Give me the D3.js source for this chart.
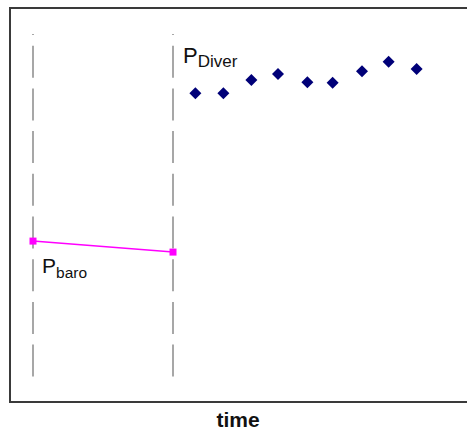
<!DOCTYPE html>
<html><head><meta charset="utf-8">
<script src="https://cdn.jsdelivr.net/npm/d3@7"></script>
<style>body{margin:0;background:#fff}svg{display:block}</style>
</head><body>
<script>
// Data
const markerTimes = [0, 10];
const baroTimes = [0, 10];
const baroValues = [39.8, 36.6];
const diverTimes = [11.6, 13.6, 15.6, 17.5, 19.6, 21.4, 23.5, 25.4, 27.4];
const diverValues = [82.8, 82.8, 86.6, 88.4, 86.0, 85.8, 89.2, 91.9, 89.8];
const xLabel = "time";

const W = 467, H = 433;
const svg = d3.select("body").append("svg").attr("width", W).attr("height", H);

const x = d3.scaleLinear().domain([0, 10]).range([33, 173]);
const y = d3.scaleLinear().domain([0, 100]).range([378, 34]);

// frame
svg.append("path").attr("d", "M470,8 H10 V402 H470")
  .attr("fill", "none").attr("stroke", "#3a3a3a").attr("stroke-width", 2);

// dashed vertical markers
svg.selectAll(".mk").data(markerTimes).enter().append("line")
  .attr("x1", d => x(d)).attr("x2", d => x(d))
  .attr("y1", y(100)).attr("y2", y(0))
  .attr("stroke", "#8a8a8a").attr("stroke-width", 1.5)
  .attr("stroke-dasharray", "32,10.7").attr("stroke-dashoffset", 31);

// baro line
const baro = baroTimes.map((t, i) => [t, baroValues[i]]);
svg.append("path").datum(baro)
  .attr("d", d3.line().x(d => x(d[0])).y(d => y(d[1])))
  .attr("fill", "none").attr("stroke", "#ff00ff").attr("stroke-width", 1.5);
svg.selectAll(".bs").data(baro).enter().append("rect")
  .attr("x", d => x(d[0]) - 3.5).attr("y", d => y(d[1]) - 3.5)
  .attr("width", 7).attr("height", 7).attr("fill", "#ff00ff");

// diver diamonds
const diver = diverTimes.map((t, i) => [t, diverValues[i]]);
svg.selectAll(".dv").data(diver).enter().append("path")
  .attr("transform", d => `translate(${x(d[0])},${y(d[1])})`)
  .attr("d", "M0,-6 L6,0 L0,6 L-6,0 Z").attr("fill", "#000078");

// labels
const font = "Arial, 'Liberation Sans', sans-serif";
const l1 = svg.append("text").attr("x", 183).attr("y", 63).attr("font-family", font).attr("fill", "#111");
l1.append("tspan").attr("font-size", 22).text("P");
l1.append("tspan").attr("font-size", 17).attr("dy", 4).text("Diver");

const l2 = svg.append("text").attr("x", 42).attr("y", 273).attr("font-family", font).attr("fill", "#111");
l2.append("tspan").attr("font-size", 21).text("P");
l2.append("tspan").attr("font-size", 15.5).attr("dy", 5).text("baro");

svg.append("text").attr("x", 238).attr("y", 427).attr("text-anchor", "middle")
  .attr("font-family", font).attr("font-weight", "bold").attr("font-size", 21)
  .attr("fill", "#111").text(xLabel);
</script>
</body></html>
